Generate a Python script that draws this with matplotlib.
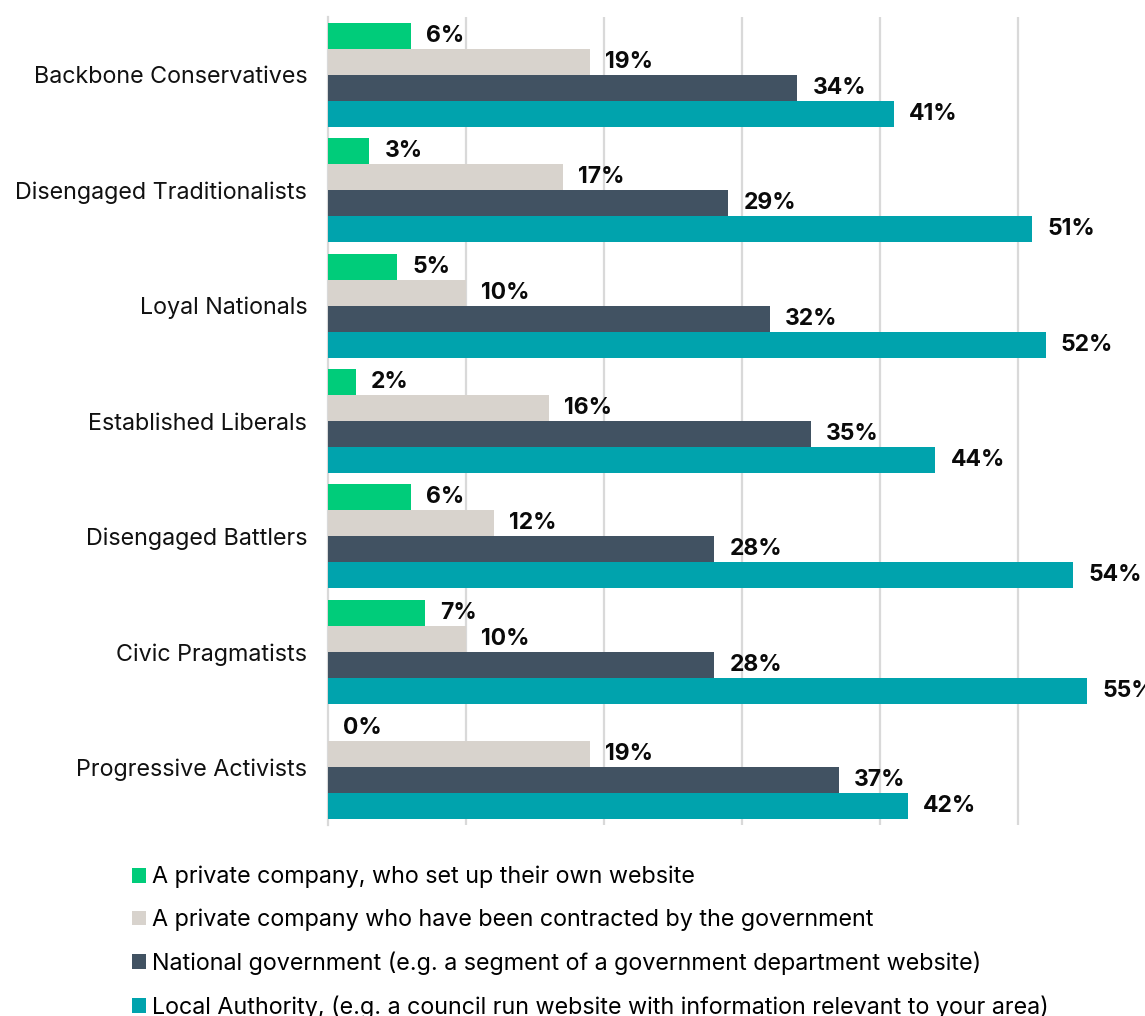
import numpy as np
import matplotlib
matplotlib.use('Agg')
import matplotlib.pyplot as plt
from matplotlib.patches import Patch

plt.rcParams['font.family'] = ['Inter', 'DejaVu Sans']

segments = ['Backbone Conservatives', 'Disengaged Traditionalists', 'Loyal Nationals',
            'Established Liberals', 'Disengaged Battlers', 'Civic Pragmatists',
            'Progressive Activists']
private_own = [6, 3, 5, 2, 6, 7, 0]
private_contracted = [19, 17, 10, 16, 12, 10, 19]
national_gov = [34, 29, 32, 35, 28, 28, 37]
local_authority = [41, 51, 52, 44, 54, 55, 42]

series_names = ['A private company, who set up their own website',
                'A private company who have been contracted by the government',
                'National government (e.g. a segment of a government department website)',
                'Local Authority, (e.g. a council run website with information relevant to your area)']
series_colors = ['#00CC7A', '#D8D3CD', '#415262', '#00A3AD']

series = [private_own, private_contracted, national_gov, local_authority]

fig = plt.figure(figsize=(11.45, 10.16), dpi=100)
ax = fig.add_axes([328 / 1145, 1 - 825 / 1016, 1 - 328 / 1145, (825 - 17) / 1016])

n = len(segments)
bar_h = 0.225
y_base = np.arange(n)
for i, (vals, col) in enumerate(zip(series, series_colors)):
    ypos = y_base - 0.3375 + i * bar_h
    ax.barh(ypos, vals, height=bar_h, color=col, zorder=3)
    for y, v in zip(ypos, vals):
        ax.annotate(f'{v}%', xy=(v, y), xytext=(11, 0), textcoords='offset points',
                    ha='left', va='center', fontsize=16.5, fontweight='bold',
                    color='#0A0A0A', annotation_clip=False)

ax.set_ylim(n - 0.5, -0.5)
ax.set_xlim(0, 59.2)
ax.set_xticks([10, 20, 30, 40, 50])
ax.xaxis.grid(True, color='#D9D9D9', linewidth=1.6, zorder=0)
ax.tick_params(axis='x', length=0, labelbottom=False)
ax.tick_params(axis='y', length=0, pad=15, labelsize=16.8, labelcolor='#111111')
ax.set_yticks(y_base)
ax.set_yticklabels(segments)
for s in ['top', 'right', 'bottom']:
    ax.spines[s].set_visible(False)
ax.spines['left'].set_color('#D9D9D9')
ax.spines['left'].set_linewidth(1.6)

handles = [Patch(facecolor=c, edgecolor='none') for c in series_colors]
fig.legend(handles, series_names, loc='upper left', bbox_to_anchor=(132 / 1145, 1 - 866 / 1016),
           frameon=False, fontsize=16.8, handlelength=0.6, handleheight=0.6,
           handletextpad=0.26, labelspacing=0.87, borderaxespad=0, borderpad=0)

fig.savefig('out.png', dpi=100)
